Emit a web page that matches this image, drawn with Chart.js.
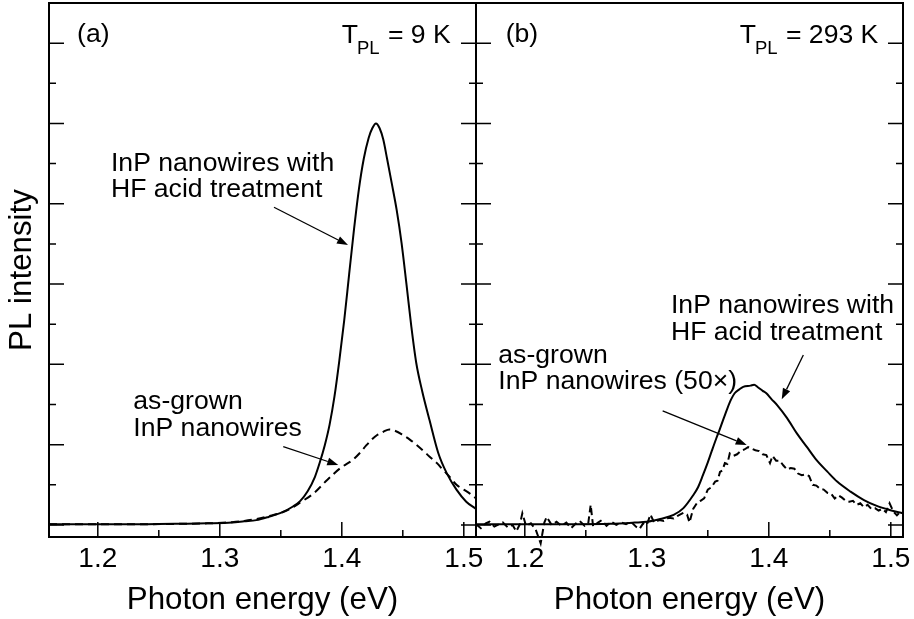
<!DOCTYPE html>
<html>
<head>
<meta charset="utf-8">
<script src="https://cdn.jsdelivr.net/npm/chart.js@4.4.1/dist/chart.umd.min.js"></script>
<style>
  html, body { margin: 0; padding: 0; background: #fff; }
  #wrap { position: relative; width: 914px; height: 619px; overflow: hidden; background: #fff; }
  #wrap canvas { position: absolute; top: 0; }
  #cLeft { left: 0; }
  #cRight { left: 436px; }
</style>
</head>
<body>
<div id="wrap">
  <canvas id="cLeft" width="492" height="619"></canvas>
  <canvas id="cRight" width="478" height="619"></canvas>
</div>
<script>
// Photon energy (eV) / PL intensity (arb. units), one pair of arrays per trace

// (a) T = 9 K, HF acid treated
const lowHfE = [1.160, 1.200, 1.240, 1.270, 1.290, 1.310, 1.320, 1.330, 1.340, 1.350,
                1.360, 1.366, 1.372, 1.378, 1.382, 1.386, 1.390, 1.394, 1.398, 1.402,
                1.406, 1.410, 1.414, 1.418, 1.422, 1.425, 1.428, 1.431, 1.434, 1.437,
                1.441, 1.445, 1.449, 1.453, 1.457, 1.461, 1.466, 1.472, 1.479, 1.486,
                1.494, 1.502, 1.510];
const lowHfI = [0.010, 0.010, 0.010, 0.015, 0.020, 0.030, 0.045, 0.060, 0.100, 0.150,
                0.230, 0.300, 0.420, 0.600, 0.780, 0.990, 1.250, 1.600, 2.050, 2.550,
                3.120, 3.680, 4.180, 4.560, 4.820, 4.940, 5.000, 4.940, 4.800, 4.570,
                4.250, 3.920, 3.510, 3.000, 2.470, 2.020, 1.660, 1.300, 0.900, 0.645,
                0.440, 0.290, 0.200];

// (a) T = 9 K, as-grown
const lowAsE = [1.160, 1.200, 1.240, 1.270, 1.290, 1.310, 1.320, 1.330, 1.340, 1.350,
                1.360, 1.366, 1.377, 1.388, 1.399, 1.409, 1.415, 1.420, 1.425, 1.429,
                1.434, 1.439, 1.444, 1.450, 1.456, 1.461, 1.467, 1.472, 1.478, 1.483,
                1.489, 1.494, 1.500, 1.505, 1.510];
const lowAsI = [0.010, 0.010, 0.010, 0.015, 0.020, 0.035, 0.050, 0.075, 0.110, 0.150,
                0.220, 0.280, 0.395, 0.560, 0.710, 0.810, 0.900, 0.990, 1.070, 1.120,
                1.160, 1.190, 1.170, 1.120, 1.060, 1.000, 0.920, 0.850, 0.770, 0.685,
                0.590, 0.500, 0.440, 0.390, 0.330];

// (b) T = 293 K, HF acid treated
const roomHfE = [1.160, 1.200, 1.240, 1.270, 1.290, 1.300, 1.311, 1.322, 1.330, 1.338,
                 1.342, 1.346, 1.350, 1.353, 1.357, 1.360, 1.366, 1.369, 1.372, 1.376,
                 1.379, 1.385, 1.388, 1.391, 1.395, 1.398, 1.402, 1.407, 1.415, 1.423,
                 1.431, 1.439, 1.448, 1.456, 1.467, 1.478, 1.488, 1.499, 1.510];
const roomHfI = [0.010, 0.010, 0.010, 0.015, 0.030, 0.040, 0.075, 0.125, 0.210, 0.370,
                 0.470, 0.620, 0.780, 0.910, 1.080, 1.200, 1.450, 1.560, 1.640, 1.690,
                 1.720, 1.735, 1.745, 1.715, 1.670, 1.640, 1.570, 1.490, 1.330, 1.140,
                 0.975, 0.810, 0.664, 0.540, 0.415, 0.310, 0.240, 0.187, 0.146];

// (b) T = 293 K, as-grown, scaled 50x
const roomAsE = [1.160, 1.164, 1.168, 1.171, 1.175, 1.179, 1.182, 1.186, 1.190, 1.193,
                 1.196, 1.198, 1.201, 1.205, 1.209, 1.213, 1.216, 1.218, 1.222, 1.226,
                 1.230, 1.234, 1.238, 1.242, 1.245, 1.249, 1.252, 1.254, 1.256, 1.260,
                 1.263, 1.267, 1.271, 1.275, 1.279, 1.283, 1.287, 1.291, 1.294, 1.297,
                 1.300, 1.303, 1.306, 1.310, 1.314, 1.318, 1.322, 1.326, 1.330, 1.333,
                 1.335, 1.338, 1.341, 1.344, 1.347, 1.350, 1.353, 1.356, 1.358, 1.360,
                 1.362, 1.364, 1.366, 1.368, 1.371, 1.374, 1.377, 1.380, 1.383, 1.386,
                 1.389, 1.392, 1.395, 1.398, 1.401, 1.403, 1.406, 1.409, 1.412, 1.415,
                 1.418, 1.421, 1.424, 1.427, 1.430, 1.433, 1.436, 1.439, 1.442, 1.445,
                 1.448, 1.451, 1.454, 1.457, 1.460, 1.463, 1.466, 1.469, 1.472, 1.475,
                 1.478, 1.481, 1.484, 1.487, 1.490, 1.493, 1.496, 1.499, 1.502, 1.505,
                 1.508, 1.510];
const roomAsI = [0.01, -0.04, 0.02, 0.04, -0.02, 0.01, 0.03, -0.03, 0.00, -0.08,
                 0.01, 0.145, -0.01, 0.02, -0.06, -0.23, 0.03, 0.10, 0.00, 0.04,
                 -0.01, 0.03, -0.04, 0.02, 0.05, -0.01, 0.02, 0.25, -0.02, 0.03,
                 0.06, -0.01, 0.04, 0.00, 0.03, 0.01, 0.04, -0.02, -0.05, 0.02,
                 0.00, 0.13, 0.03, 0.06, 0.05, 0.09, 0.08, 0.12, 0.15, 0.13,
                 0.03, 0.20, 0.27, 0.30, 0.33, 0.44, 0.47, 0.54, 0.55, 0.66,
                 0.68, 0.77, 0.76, 0.89, 0.86, 0.88, 0.92, 0.94, 0.97, 0.95,
                 0.93, 0.92, 0.88, 0.87, 0.77, 0.86, 0.80, 0.80, 0.74, 0.69,
                 0.71, 0.70, 0.64, 0.62, 0.63, 0.61, 0.50, 0.49, 0.45, 0.44,
                 0.40, 0.39, 0.33, 0.37, 0.34, 0.30, 0.29, 0.30, 0.25, 0.27,
                 0.22, 0.25, 0.20, 0.21, 0.18, 0.20, 0.16, 0.27, 0.17, 0.12,
                 0.17, 0.14];

// axis ranges and tick positions
const energyRange = [1.16, 1.51];
const intensityRange = [-0.15, 6.5];
const xMinorTicks = [1.25, 1.35, 1.45];
const yMajorTicks = [0, 1, 2, 3, 4, 5, 6];
const yMinorTicks = [0.5, 1.5, 2.5, 3.5, 4.5, 5.5];

const FONT = '"Liberation Sans", Arial, Helvetica, sans-serif';
Chart.defaults.font.family = FONT;
Chart.defaults.color = '#000';

function zip(xs, ys) {
    return xs.map((x, i) => ({ x: x, y: ys[i] }));
}

// box around the plot area with inward tick marks (bottom, left, right)
const frameTicks = {
    id: 'frameTicks',
    afterDatasetsDraw(chart) {
        const { ctx, chartArea: a, scales: { x, y } } = chart;
        ctx.save();
        ctx.strokeStyle = '#000';
        ctx.lineWidth = 1.5;
        ctx.beginPath();
        x.ticks.forEach(t => {
            const p = x.getPixelForValue(t.value);
            ctx.moveTo(p, a.bottom); ctx.lineTo(p, a.bottom - 15);
        });
        xMinorTicks.forEach(v => {
            const p = x.getPixelForValue(v);
            ctx.moveTo(p, a.bottom); ctx.lineTo(p, a.bottom - 7);
        });
        yMajorTicks.forEach(v => {
            const p = y.getPixelForValue(v);
            ctx.moveTo(a.left, p); ctx.lineTo(a.left + 15, p);
            ctx.moveTo(a.right, p); ctx.lineTo(a.right - 15, p);
        });
        yMinorTicks.forEach(v => {
            const p = y.getPixelForValue(v);
            ctx.moveTo(a.left, p); ctx.lineTo(a.left + 7, p);
            ctx.moveTo(a.right, p); ctx.lineTo(a.right - 7, p);
        });
        ctx.stroke();
        ctx.lineWidth = 2;
        ctx.strokeRect(a.left, a.top, a.right - a.left, a.bottom - a.top);
        ctx.restore();
    }
};

function drawArrow(ctx, x0, y0, x1, y1) {
    const ang = Math.atan2(y1 - y0, x1 - x0);
    const len = 11, half = 4;
    const bx = x1 - len * Math.cos(ang), by = y1 - len * Math.sin(ang);
    ctx.lineWidth = 1.3;
    ctx.beginPath();
    ctx.moveTo(x0, y0);
    ctx.lineTo(bx, by);
    ctx.stroke();
    ctx.beginPath();
    ctx.moveTo(x1, y1);
    ctx.lineTo(bx + half * Math.sin(ang), by - half * Math.cos(ang));
    ctx.lineTo(bx - half * Math.sin(ang), by + half * Math.cos(ang));
    ctx.closePath();
    ctx.fill();
}

// panel letter, temperature label, curve captions and arrows (placed in data units)
const notes = {
    id: 'notes',
    afterDraw(chart, args, opts) {
        const { ctx, scales: { x, y } } = chart;
        const px = e => x.getPixelForValue(e);
        const py = v => y.getPixelForValue(v);
        const big = '26.6px ' + FONT;
        const small = '18.5px ' + FONT;
        ctx.save();
        ctx.fillStyle = '#000';
        ctx.strokeStyle = '#000';
        ctx.textBaseline = 'alphabetic';
        ctx.textAlign = 'left';
        ctx.font = big;
        opts.lines.forEach(t => ctx.fillText(t.text, px(t.e), py(t.i)));
        opts.arrows.forEach(a => drawArrow(ctx, px(a.from[0]), py(a.from[1]), px(a.to[0]), py(a.to[1])));

        const tl = opts.temp;
        ctx.font = big;
        const wT = ctx.measureText('T').width;
        const wRest = ctx.measureText(tl.rest).width;
        ctx.font = small;
        const wSub = ctx.measureText('PL').width;
        const x0 = px(tl.e) - (wT + wSub + wRest);
        const base = py(tl.i);
        ctx.font = big;
        ctx.fillText('T', x0, base);
        ctx.font = small;
        ctx.fillText('PL', x0 + wT - 1, base + 11);
        ctx.font = big;
        ctx.fillText(tl.rest, x0 + wT + wSub, base);
        ctx.restore();
    }
};

function makePanel(canvasId, solid, dashed, opt) {
    const yScale = {
        type: 'linear',
        min: intensityRange[0],
        max: intensityRange[1],
        display: opt.yTitle !== null,
        ticks: { display: false },
        grid: { display: false, drawTicks: false },
        border: { display: false },
        afterFit: s => { s.width = opt.yWidth; }
    };
    if (opt.yTitle) {
        yScale.title = { display: true, text: opt.yTitle, font: { size: 31.3 }, padding: { top: 4, bottom: 0 } };
    }
    return new Chart(document.getElementById(canvasId), {
        type: 'line',
        data: {
            datasets: [
                {
                    data: solid,
                    borderColor: '#000',
                    borderWidth: 2,
                    pointRadius: 0,
                    cubicInterpolationMode: 'monotone',
                    fill: false
                },
                {
                    data: dashed,
                    borderColor: '#000',
                    borderWidth: 2,
                    borderDash: opt.dash,
                    pointRadius: 0,
                    cubicInterpolationMode: opt.smoothDashed ? 'monotone' : 'default',
                    tension: 0,
                    fill: false,
                    clip: opt.clipDashed
                }
            ]
        },
        options: {
            responsive: false,
            animation: false,
            devicePixelRatio: 1,
            layout: { padding: { left: opt.padLeft, right: opt.padRight, top: 3, bottom: 0 } },
            plugins: {
                legend: { display: false },
                tooltip: { enabled: false },
                notes: opt.notes
            },
            scales: {
                x: {
                    type: 'linear',
                    min: energyRange[0],
                    max: energyRange[1],
                    ticks: {
                        stepSize: 0.1,
                        includeBounds: false,
                        autoSkip: false,
                        maxRotation: 0,
                        padding: 5,
                        font: { size: 28 },
                        callback: v => v.toFixed(1)
                    },
                    grid: { display: false, drawTicks: false },
                    border: { display: false },
                    title: { display: true, text: 'Photon energy (eV)', font: { size: 31.3 }, padding: { top: 4, bottom: 0 } },
                    afterFit: s => { s.height = 82; s.paddingLeft = 0; s.paddingRight = 0; }
                },
                y: yScale
            }
        },
        plugins: [frameTicks, notes]
    });
}

makePanel('cLeft', zip(lowHfE, lowHfI), zip(lowAsE, lowAsI), {
    yTitle: 'PL intensity',
    yWidth: 49,
    padLeft: 0,
    padRight: 16,
    dash: [8, 5],
    smoothDashed: true,
    clipDashed: true,
    notes: {
        lines: [
            { text: '(a)', e: 1.183, i: 6.01 },
            { text: 'InP nanowires with', e: 1.2108, i: 4.41 },
            { text: 'HF acid treatment', e: 1.2108, i: 4.08 },
            { text: 'as-grown', e: 1.2291, i: 1.445 },
            { text: 'InP nanowires', e: 1.2291, i: 1.108 }
        ],
        arrows: [
            { from: [1.3444, 3.956], to: [1.4051, 3.487] },
            { from: [1.352, 0.975], to: [1.3971, 0.747] }
        ],
        temp: { rest: ' = 9 K', e: 1.4893, i: 6.0 }
    }
});

makePanel('cRight', zip(roomHfE, roomHfI), zip(roomAsE, roomAsI), {
    yTitle: null,
    yWidth: 0,
    padLeft: 40,
    padRight: 11,
    dash: [7, 4],
    smoothDashed: false,
    clipDashed: false,
    notes: {
        lines: [
            { text: '(b)', e: 1.1843, i: 6.01 },
            { text: 'InP nanowires with', e: 1.3198, i: 2.64 },
            { text: 'HF acid treatment', e: 1.3198, i: 2.304 },
            { text: 'as-grown', e: 1.1783, i: 2.021 },
            { text: 'InP nanowires (50\u00d7)', e: 1.1783, i: 1.69 }
        ],
        arrows: [
            { from: [1.4283, 2.117], to: [1.4106, 1.565] },
            { from: [1.313, 1.42], to: [1.3819, 0.996] }
        ],
        temp: { rest: ' = 293 K', e: 1.4898, i: 6.0 }
    }
});
</script>
</body>
</html>
